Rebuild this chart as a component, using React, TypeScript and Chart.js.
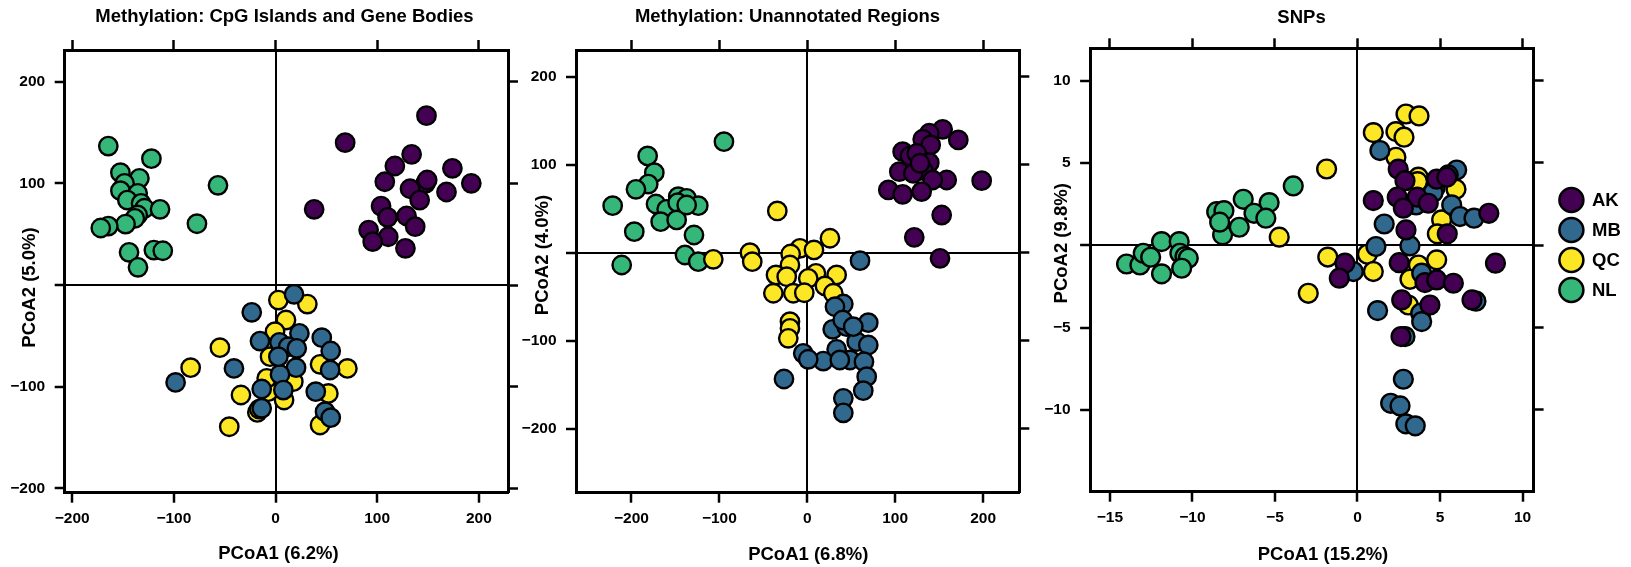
import React, { useEffect, useRef } from 'react';
import { Chart, registerables } from 'chart.js';

Chart.register(...registerables);

type Pt = [number, number];

// ---------- groups ----------
const groupNames = ['AK', 'MB', 'QC', 'NL'];
const groupColors = ['#440154', '#31688E', '#FDE725', '#35B779'];

// ---------- Panel 1: Methylation: CpG Islands and Gene Bodies ----------
const cpgAK: Pt[] = [[148.5,166.6],[68.5,140],[133.9,128.6],[117.4,117.1],[174,114.8],[107.5,101.6],[192.6,100],[147.5,100],[132.3,94.7],[168.2,91.5],[141.8,83.6],[38,74.5],[103.8,77.7],[110.2,66.6],[128.9,67.9],[137.4,57.4],[91.6,54.1],[110.9,47.5],[95.6,42.6],[127.8,36.1],[149.2,103.3]];
const cpgMB: Pt[] = [[18.2,-9.2],[-23.4,-26.9],[23.5,-47.5],[45.5,-51.8],[-15.3,-55.1],[3.8,-56.4],[54.3,-64.9],[12.6,-60.7],[-40.9,-82],[20.2,-81.3],[53.7,-83.6],[4.4,-87.9],[-98.3,-95.8],[-13.6,-102.3],[7.7,-103.3],[39.6,-104.9],[-13.6,-121.3],[48.7,-124.6],[54.3,-130.5],[2.8,-70.5],[20.9,-62.3]];
const cpgQC: Pt[] = [[2.8,-14.8],[31.3,-18.7],[10.3,-34.4],[-0.5,-45.9],[-54.7,-61.6],[-83.5,-81.3],[-5.4,-70.5],[43.8,-78],[70.7,-82],[-34,-108.2],[8.4,-113.1],[-7.1,-104.9],[52,-106.6],[-17.9,-125.3],[-45.5,-139.4],[43.8,-137.7],[17.5,-95.1],[-8.7,-91.8],[-16,-122]];
const cpgNL: Pt[] = [[-164.5,136.7],[-122.1,124.3],[-152.6,110.5],[-133.9,105],[-148.5,100],[-152.6,92.8],[-135.6,90.2],[-145.8,83.6],[-132.3,80.4],[-128.9,75.5],[-113.6,74.5],[-135.6,68.9],[-138.4,65.6],[-147.5,60],[-164.5,58],[-171.9,56.1],[-56.6,98.1],[-77.3,60.3],[-144.1,32.2],[-119.7,34.4],[-110.9,33.7],[-135.3,17.4]];
const cpgXTicks = [-200, -100, 0, 100, 200];
const cpgYTicks = [-200, -100, 0, 100, 200];

// ---------- Panel 2: Methylation: Unannotated Regions ----------
const unaAK: Pt[] = [[154,140.2],[138.8,135.7],[171.8,128.1],[131.3,128.9],[140.4,122.4],[108.5,114.8],[116.8,109.9],[124.5,112.9],[138.8,102.3],[132,93.2],[104.7,92],[120.6,90.2],[198.4,81.8],[158.6,82.6],[142.7,82.6],[92.2,71.3],[108.5,66.3],[130.1,69.3],[152.9,42.8],[121.7,17.5],[151,-6.4],[128.2,101.6]];
const unaMB: Pt[] = [[60,-9.1],[41,-58.3],[31.5,-61.4],[69.4,-79.5],[28.9,-87.1],[44.8,-84.1],[56.2,-101.1],[69.4,-104.9],[33.4,-109.8],[-4.6,-114.3],[18.2,-123.1],[48.6,-121.9],[37,-121.9],[64.5,-123.9],[67.6,-140.9],[-26.5,-143.5],[63.7,-156.8],[41,-165.5],[41,-182],[40.3,-76.5],[52.3,-84.1],[1.1,-121.1]];
const unaQC: Pt[] = [[-34.1,47.4],[-106.9,-7.5],[-65.2,0],[-62.6,-10.2],[25.8,16.4],[-8.3,5],[7.6,3.1],[-18.9,-1.5],[-19.7,-14],[-35.6,-25.3],[-23.4,-27.3],[9.9,-23.4],[33.4,-25.3],[1.1,-29.1],[-38.6,-46.1],[-15.9,-46.1],[-3.4,-45.5],[20.1,-37.8],[29.6,-46.1],[-19.7,-78.4],[-19.7,-85.9],[-21.6,-97.3]];
const unaNL: Pt[] = [[-94.8,126.1],[-181.6,109.9],[-174,90.9],[-180.9,78],[-194.9,72],[-221.4,53.4],[-146.8,63.6],[-137.2,61.8],[-172.1,55.3],[-160,49.3],[-147.4,56.8],[-124,53.4],[-166.8,35.2],[-148.6,37.2],[-196.8,23.9],[-128.9,20.1],[-139.1,-2.6],[-124,-10.2],[-211.1,-14],[-137.2,54.2]];
const unaXTicks = [-200, -100, 0, 100, 200];
const unaYTicks = [-200, -100, 0, 100, 200];

// ---------- Panel 3: SNPs ----------
const snpAK: Pt[] = [[2.47,4.62],[2.88,3.92],[4.8,4.01],[5.41,4.13],[0.96,2.71],[2.41,2.92],[3.62,2.92],[4.29,2.55],[2.78,2.25],[2.94,0.93],[5.44,0.69],[8.36,-1.09],[7.96,1.94],[-0.76,-1.09],[-1.1,-2.0],[2.53,-1.06],[4.09,-2.27],[4.8,-2.11],[5.81,-2.31],[6.94,-3.32],[2.68,-3.32],[4.39,-3.63],[2.64,-5.55]];
const snpMB: Pt[] = [[1.36,5.75],[6.01,4.57],[5.5,4.27],[4.7,3.46],[5.71,2.45],[6.21,1.74],[1.62,1.29],[3.18,-0.04],[1.12,-0.08],[3.55,2.45],[7.06,1.64],[4.58,3.2],[-0.25,-1.6],[3.89,-1.7],[7.18,-3.4],[3.83,-4.13],[3.89,-4.64],[1.22,-3.97],[2.88,-5.55],[2.78,-8.14],[2.01,-9.6],[2.58,-9.76],[2.93,-10.85],[3.5,-10.97]];
const snpQC: Pt[] = [[2.94,7.97],[3.73,7.85],[0.96,6.84],[2.33,6.9],[2.82,6.56],[2.33,5.34],[-1.87,4.63],[3.69,4.13],[3.64,3.86],[5.97,3.4],[5.1,1.54],[4.84,0.69],[-1.8,-0.72],[0.6,-0.55],[0.96,-1.6],[3.69,-1.2],[4.8,-0.89],[3.18,-2.07],[3.08,-3.63],[-2.98,-2.92],[-4.74,0.49]];
const snpNL: Pt[] = [[-13.99,-1.14],[-13.18,-1.2],[-12.98,-0.49],[-12.53,-0.73],[-11.87,0.22],[-11.87,-1.74],[-10.8,0.22],[-10.76,-0.49],[-10.45,-0.69],[-10.25,-0.79],[-10.65,-1.4],[-8.53,2.04],[-8.09,2.1],[-8.17,0.63],[-6.92,2.79],[-7.16,1.09],[-6.27,1.94],[-5.35,2.59],[-5.55,1.64],[-3.89,3.6],[-8.35,1.4]];
const snpXTicks = [-15, -10, -5, 0, 5, 10];
const snpYTicks = [-10, -5, 0, 5, 10];

// ---------- styling / layout ----------
const FONT = '"Liberation Sans", Arial, Helvetica, sans-serif';
const H = 567;
const minusFmt = (v: number) => String(v).replace('-', '\u2212');

interface PanelCfg {
  title: string; xLabel: string; yLabel: string;
  xRange: [number, number]; yRange: [number, number];
  xTicks: number[]; yTicks: number[];
  series: Pt[][];
  canvasLeft: number; canvasW: number;
  area: { left: number; right: number; top: number; bottom: number };
  titlePos: [number, number]; xLabelPos: [number, number]; yLabelPos: [number, number];
  legend?: { x: number; ys: number[]; textX: number };
  pointR: number;
}

const panels: PanelCfg[] = [
  {
    title: 'Methylation: CpG Islands and Gene Bodies', xLabel: 'PCoA1 (6.2%)', yLabel: 'PCoA2 (5.0%)',
    xRange: [-207.4, 228.7], yRange: [-204.3, 231.2], xTicks: cpgXTicks, yTicks: cpgYTicks,
    series: [cpgAK, cpgMB, cpgQC, cpgNL],
    canvasLeft: 0, canvasW: 525,
    area: { left: 64.7, right: 508, top: 50, bottom: 492.7 },
    titlePos: [284.5, 16.7], xLabelPos: [278.4, 554], yLabelPos: [30, 287.5], pointR: 9.2,
  },
  {
    title: 'Methylation: Unannotated Regions', xLabel: 'PCoA1 (6.8%)', yLabel: 'PCoA2 (4.0%)',
    xRange: [-263.1, 241.2], yRange: [-272.7, 230.3], xTicks: unaXTicks, yTicks: unaYTicks,
    series: [unaAK, unaMB, unaQC, unaNL],
    canvasLeft: 505, canvasW: 535,
    area: { left: 576, right: 1019.3, top: 50, bottom: 492.7 },
    titlePos: [787.5, 16.7], xLabelPos: [808.3, 555], yLabelPos: [543.3, 255], pointR: 9.2,
  },
  {
    title: 'SNPs', xLabel: 'PCoA1 (15.2%)', yLabel: 'PCoA2 (9.8%)',
    xRange: [-16.2, 10.67], yRange: [-14.97, 11.96], xTicks: snpXTicks, yTicks: snpYTicks,
    series: [snpAK, snpMB, snpQC, snpNL],
    canvasLeft: 1022, canvasW: 609,
    area: { left: 1090.1, right: 1533.6, top: 48.3, bottom: 491.7 },
    titlePos: [1301.5, 18.3], xLabelPos: [1323, 555], yLabelPos: [1062, 243.3], pointR: 9.4,
    legend: { x: 1571.4, ys: [200, 230, 260, 290], textX: 1592 },
  },
];

const panelText = {
  id: 'panelText',
  afterDraw(chart: any, _args: any, opts: any) {
    const ctx = chart.ctx as CanvasRenderingContext2D;
    const items = opts.items || [];
    for (const t of items) {
      ctx.save();
      ctx.font = `bold ${t.size}px ${FONT}`;
      ctx.fillStyle = '#000';
      ctx.textAlign = 'center';
      ctx.textBaseline = 'middle';
      ctx.translate(t.x, t.y);
      if (t.rotate) ctx.rotate(-Math.PI / 2);
      ctx.fillText(t.text, 0, 0);
      ctx.restore();
    }
    const lg = opts.legend;
    if (lg) {
      groupNames.forEach((name, i) => {
        const y = lg.ys[i];
        ctx.save();
        ctx.beginPath();
        ctx.arc(lg.x, y, 12, 0, Math.PI * 2);
        ctx.fillStyle = groupColors[i];
        ctx.fill();
        ctx.lineWidth = 2.5;
        ctx.strokeStyle = '#000';
        ctx.stroke();
        ctx.font = `bold 18.5px ${FONT}`;
        ctx.fillStyle = '#000';
        ctx.textAlign = 'left';
        ctx.textBaseline = 'middle';
        ctx.fillText(name, lg.textX, y + 1);
        ctx.restore();
      });
    }
  },
};

const zeroColor = (ctx: any) => (ctx.tick && ctx.tick.value === 0 ? '#000' : 'rgba(0,0,0,0)');

function makeConfig(p: PanelCfg): any {
  const off = p.canvasLeft;
  const aL = p.area.left - off;
  const aR = p.area.right - off;
  const LW = 62, RW = 12, TH = 12, BH = 44;
  const tickFont = { family: FONT, weight: 'bold', size: 15.5 };
  const setTicks = (vals: number[]) => (s: any) => { s.ticks = vals.map((v) => ({ value: v })); };
  const gridMain = { drawOnChartArea: true, color: zeroColor, lineWidth: 2, drawTicks: true, tickLength: 10, tickColor: '#000', tickWidth: 2.5 };
  const gridSide = { drawOnChartArea: false, drawTicks: true, tickLength: 10, tickColor: '#000', tickWidth: 2.5 };
  const border = { display: true, color: '#000', width: 3 };
  const shift = (xy: [number, number]) => [xy[0] - off, xy[1]];
  const [tx, ty] = shift(p.titlePos);
  const [xx, xy] = shift(p.xLabelPos);
  const [yx, yy] = shift(p.yLabelPos);
  return {
    type: 'scatter',
    data: {
      datasets: p.series.map((pts, i) => ({
        label: groupNames[i],
        data: pts.map(([x, y]) => ({ x, y })),
        backgroundColor: groupColors[i],
        borderColor: '#000',
        borderWidth: 2.4,
        pointRadius: p.pointR,
        pointHoverRadius: p.pointR,
        xAxisID: 'x',
        yAxisID: 'y',
      })),
    },
    options: {
      animation: false,
      responsive: false,
      devicePixelRatio: 1,
      events: [],
      layout: {
        padding: { left: aL - LW, right: p.canvasW - aR - RW, top: p.area.top - TH, bottom: H - p.area.bottom - BH },
      },
      plugins: {
        legend: { display: false },
        tooltip: { enabled: false },
        panelText: {
          items: [
            { text: p.title, x: tx, y: ty, size: 18.5 },
            { text: p.xLabel, x: xx, y: xy, size: 18.5 },
            { text: p.yLabel, x: yx, y: yy, size: 18.5, rotate: true },
          ],
          legend: p.legend ? { x: p.legend.x - off, ys: p.legend.ys, textX: p.legend.textX - off } : null,
        },
      },
      scales: {
        x: {
          type: 'linear', axis: 'x', position: 'bottom', min: p.xRange[0], max: p.xRange[1],
          afterBuildTicks: setTicks(p.xTicks),
          afterFit: (s: any) => { s.height = BH; },
          ticks: { font: tickFont, color: '#000', padding: 7, maxRotation: 0, autoSkip: false, callback: (v: number) => minusFmt(v) },
          grid: gridMain, border,
        },
        xTop: {
          type: 'linear', axis: 'x', position: 'top', min: p.xRange[0], max: p.xRange[1],
          afterBuildTicks: setTicks(p.xTicks),
          afterFit: (s: any) => { s.height = TH; },
          ticks: { display: false },
          grid: gridSide, border,
        },
        y: {
          type: 'linear', axis: 'y', position: 'left', min: p.yRange[0], max: p.yRange[1],
          afterBuildTicks: setTicks(p.yTicks),
          afterFit: (s: any) => { s.width = LW; },
          ticks: { font: tickFont, color: '#000', padding: 9.5, autoSkip: false, callback: (v: number) => (v === 0 ? '' : minusFmt(v)) },
          grid: gridMain, border,
        },
        yRight: {
          type: 'linear', axis: 'y', position: 'right', min: p.yRange[0], max: p.yRange[1],
          afterBuildTicks: setTicks(p.yTicks),
          afterFit: (s: any) => { s.width = RW; },
          ticks: { display: false },
          grid: gridSide, border,
        },
      },
    },
    plugins: [panelText],
  };
}

function Panel({ cfg }: { cfg: PanelCfg }) {
  const ref = useRef<HTMLCanvasElement>(null);
  useEffect(() => {
    if (!ref.current) return;
    const chart = new Chart(ref.current, makeConfig(cfg));
    return () => chart.destroy();
  }, [cfg]);
  return (
    <canvas
      ref={ref}
      width={cfg.canvasW}
      height={H}
      style={{ position: 'absolute', left: cfg.canvasLeft, top: 0, width: cfg.canvasW, height: H }}
    />
  );
}

export default function App() {
  return (
    <div style={{ position: 'absolute', left: 0, top: 0, width: 1631, height: H, background: '#fff', overflow: 'hidden' }}>
      {panels.map((p, i) => (
        <Panel key={i} cfg={p} />
      ))}
    </div>
  );
}
